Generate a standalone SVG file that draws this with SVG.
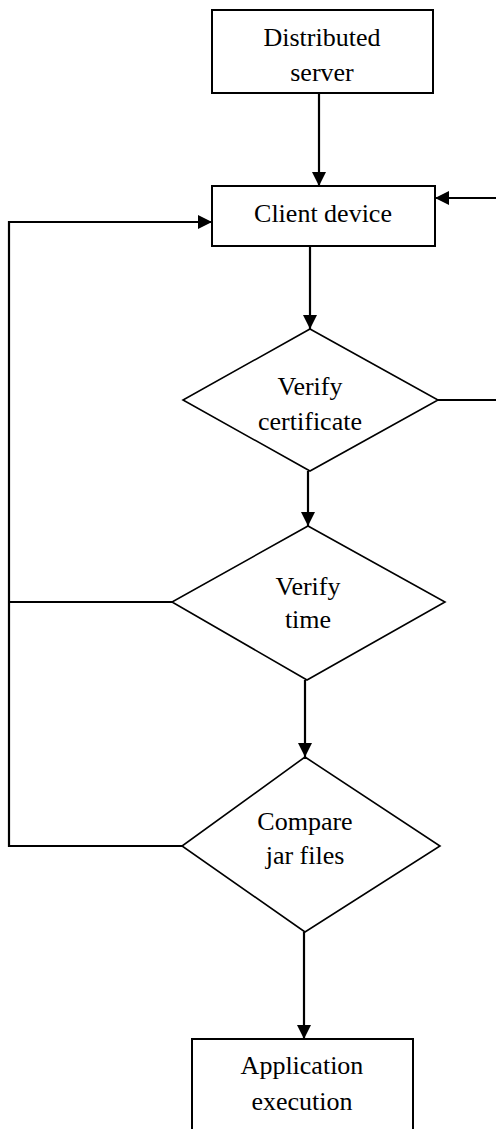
<svg xmlns="http://www.w3.org/2000/svg" width="496" height="1129" viewBox="0 0 496 1129">
<style>
.box{fill:#fff;stroke:#000;stroke-width:2}
.dia{fill:#fff;stroke:#000;stroke-width:1.6}
.ln{fill:none;stroke:#000;stroke-width:2.2}
text{font-family:"Liberation Serif","Times New Roman",serif;font-size:26px;fill:#000;text-anchor:middle}
</style>
<defs>
<marker id="ah" markerUnits="userSpaceOnUse" markerWidth="14" markerHeight="14" viewBox="0 0 14 14" refX="14" refY="7" orient="auto">
<path d="M0,0 L14,7 L0,14 Z" fill="#000"/>
</marker>
</defs>
<g id="connectors">
<path class="ln" d="M319,93 V186" marker-end="url(#ah)"/>
<path class="ln" d="M496,198 H435" marker-end="url(#ah)"/>
<path class="ln" d="M310,246 V329" marker-end="url(#ah)"/>
<path class="ln" d="M438,400 H496"/>
<path class="ln" d="M308,471 V526" marker-end="url(#ah)"/>
<path class="ln" d="M172,602 H10"/>
<path class="ln" d="M305,680 V757" marker-end="url(#ah)"/>
<path class="ln" d="M182,846 H9 V222 H212" marker-end="url(#ah)"/>
<path class="ln" d="M304,932 V1039" marker-end="url(#ah)"/>
</g>
<g id="distributed-server">
<rect class="box" x="212" y="10" width="221" height="83"/>
<text x="322" y="46">Distributed</text>
<text x="322" y="81">server</text>
</g>
<g id="client-device">
<rect class="box" x="212" y="186" width="223" height="60"/>
<text x="323" y="222">Client device</text>
</g>
<g id="verify-certificate">
<polygon class="dia" points="310,329 438,400 310,471 183,400"/>
<text x="310" y="395">Verify</text>
<text x="310" y="430">certificate</text>
</g>
<g id="verify-time">
<polygon class="dia" points="308,526 445,602 307,680 172,602"/>
<text x="308" y="595">Verify</text>
<text x="308" y="628">time</text>
</g>
<g id="compare-jar-files">
<polygon class="dia" points="305,757 440,846 305,932 182,846"/>
<text x="305" y="830">Compare</text>
<text x="305" y="864">jar files</text>
</g>
<g id="application-execution">
<rect class="box" x="192" y="1039" width="221" height="100"/>
<text x="302" y="1074">Application</text>
<text x="302" y="1110">execution</text>
</g>
</svg>
